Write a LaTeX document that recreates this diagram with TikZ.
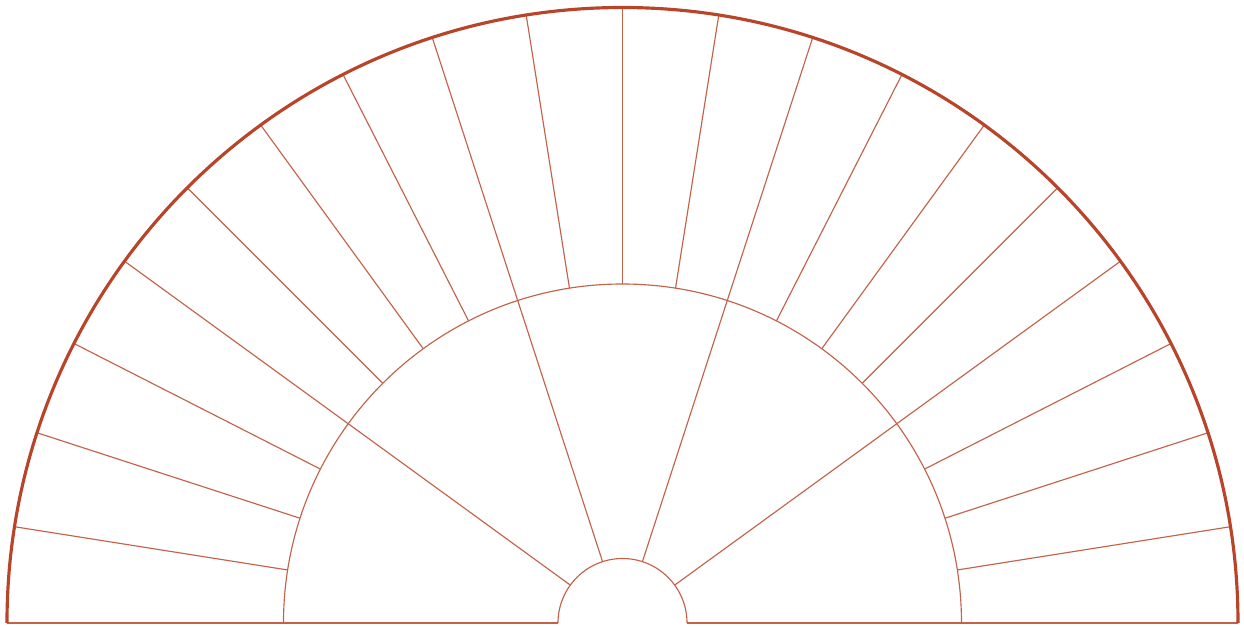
\documentclass[tikz,border=0pt]{standalone}
\usepackage{tikz}
\definecolor{cArco}{HTML}{B8452A}

\begin{document}
\begin{tikzpicture}[
    x=0.02cm, y=0.02cm,
    borde/.style={draw=cArco, line width=1.8pt},
    radio/.style={draw=cArco!85, line width=0.65pt},
]

\def\R{615.5}   % radio del arco exterior
\def\rm{339}    % radio del arco medio
\def\ri{64.5}   % radio del semicirculo central

\useasboundingbox (-622.5,-3) rectangle (621.5,623);

% ===================== Base =====================
\draw[radio] (-\R,0) -- (-\ri,0);
\draw[radio] (\ri,0) -- (\R,0);

% ===================== Arcos interiores =====================
\draw[radio] (\ri,0) arc[start angle=0, end angle=180, radius=\ri];
\draw[radio] (\rm,0) arc[start angle=0, end angle=180, radius=\rm];

% ===================== Radios: 5 sectores dentro, 20 fuera =====================
\foreach \a in {36,72,108,144} {\draw[radio] (\a:\ri) -- (\a:\rm);}
\foreach \k in {1,...,19} {\draw[radio] ({\k*9}:\rm) -- ({\k*9}:\R);}

% ===================== Arco exterior =====================
\draw[borde] (\R,0) arc[start angle=0, end angle=180, radius=\R];

\end{tikzpicture}
\end{document}
